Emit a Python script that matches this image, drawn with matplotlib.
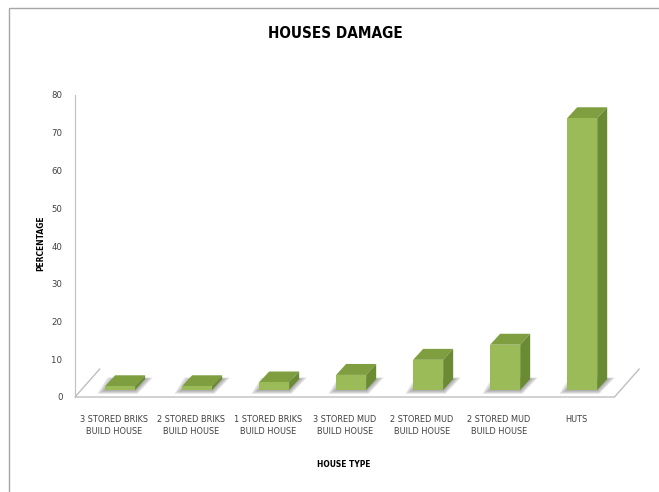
import matplotlib.pyplot as plt
from matplotlib.patches import Polygon, Rectangle


# 房屋类型（横轴标签）
house_types = ['3 STORED BRIKS\nBUILD HOUSE', '2 STORED BRIKS\nBUILD HOUSE', '1 STORED BRIKS\nBUILD HOUSE',
               '3 STORED MUD\nBUILD HOUSE', '2 STORED MUD\nBUILD HOUSE', '2 STORED MUD\nBUILD HOUSE', 'HUTS']
# 损坏百分比
damage_pct = [1, 1, 2, 4, 8, 12, 72]
# 纵轴刻度
y_ticks = [0, 10, 20, 30, 40, 50, 60, 70, 80]

# 字体，窄体
plt.rcParams['font.family'] = ['DejaVu Sans']
plt.rcParams['font.stretch'] = 'condensed'

# 柱子颜色：正面，顶面，侧面
front_color = '#9bbb59'
top_color = '#7f9e40'
side_color = '#6a8a34'

# 立体效果参数（数据坐标）
bar_width = 0.39
bar_shift = 0.08
bar_base = 1.85
bar_dx, bar_dy = 0.13, 2.9
floor_left, floor_right = -0.506, 6.5
floor_dx, floor_dy = 0.32, 7.4

fig = plt.figure(figsize=(6.59, 4.92), dpi=100)
# 外框
fig.patches.append(Rectangle((9 / 659, -0.1), 1.0, 1 - 8 / 492 + 0.1, transform=fig.transFigure,
                             fill=False, edgecolor='#a6a6a6', linewidth=1.0))

ax = fig.add_axes([75 / 659, 95 / 492, 570 / 659, 302 / 492])
ax.set_xlim(floor_left, (645 - 114) / 77)
ax.set_ylim(0, 80)

# 地板
ax.plot([floor_left + floor_dx, floor_left, floor_right, floor_right + floor_dx],
        [floor_dy, 0, 0, floor_dy], color='#bfbfbf', linewidth=1.0, clip_on=False, zorder=1)

positions = list(range(len(house_types)))
lefts = [p + bar_shift - bar_width / 2 for p in positions]

# 阴影（几层叠加，模拟模糊）
for k in range(4):
    g = 0.1 - k * 0.025
    h = 1.0 - k * 0.25
    for x0 in lefts:
        ax.add_patch(Polygon([(x0 - g, bar_base - h), (x0 + bar_width + g * 0.3, bar_base - h),
                              (x0 + bar_width + bar_dx + g, bar_base + bar_dy + h * 0.4),
                              (x0 + bar_dx - g, bar_base + bar_dy + h * 0.4)],
                             closed=True, facecolor='#6f6f6f', edgecolor='none', alpha=0.18,
                             clip_on=False, zorder=2))

# 柱子正面
ax.bar(lefts, damage_pct, width=bar_width, bottom=bar_base, align='edge', color=front_color,
       edgecolor='none', zorder=4, clip_on=False)

# 柱子顶面和侧面
for x0, v in zip(lefts, damage_pct):
    top = bar_base + v
    ax.add_patch(Polygon([(x0, top), (x0 + bar_width, top), (x0 + bar_width + bar_dx, top + bar_dy),
                          (x0 + bar_dx, top + bar_dy)], closed=True, facecolor=top_color,
                         edgecolor='none', zorder=3, clip_on=False))
    ax.add_patch(Polygon([(x0 + bar_width, bar_base), (x0 + bar_width + bar_dx, bar_base + bar_dy),
                          (x0 + bar_width + bar_dx, top + bar_dy), (x0 + bar_width, top)], closed=True,
                         facecolor=side_color, edgecolor='none', zorder=3, clip_on=False))

# 坐标轴样式
for s in ['top', 'right', 'bottom']:
    ax.spines[s].set_visible(False)
ax.spines['left'].set_color('#bfbfbf')
ax.set_yticks(y_ticks)
ax.set_xticks(positions)
ax.set_xticklabels(house_types, linespacing=1.45)
ax.tick_params(axis='y', length=0, pad=9, labelsize=6.8, labelcolor='#404040')
ax.tick_params(axis='x', length=0, pad=13, labelsize=6.6, labelcolor='#404040')
ax.set_xlabel('HOUSE TYPE', fontsize=6, fontweight='bold')
ax.xaxis.set_label_coords((344 - 75) / 570, (397 - 460) / 302)
ax.set_ylabel('PERCENTAGE', fontsize=6, fontweight='bold')
ax.yaxis.set_label_coords((45 - 75) / 570, (397 - 243) / 302)

fig.text(335 / 659, 1 - 33 / 492, 'HOUSES DAMAGE', ha='center', va='center', fontsize=11, fontweight='bold')

fig.savefig('out.png', dpi=100)
